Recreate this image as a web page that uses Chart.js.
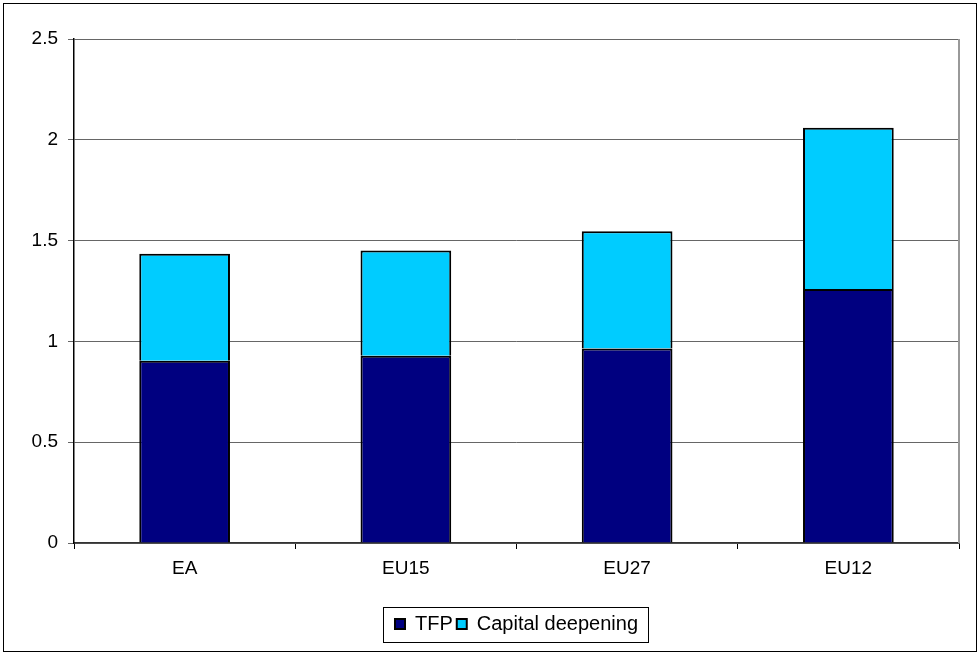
<!DOCTYPE html>
<html>
<head>
<meta charset="utf-8">
<script src="https://cdn.jsdelivr.net/npm/chart.js@4.4.0/dist/chart.umd.min.js"></script>
<style>
    html, body { margin: 0; padding: 0; background: #fff; }
    #wrap { width: 978px; height: 653px; }
</style>
</head>
<body>
<div id="wrap"><canvas id="growth-chart" width="978" height="653"></canvas></div>
<script>
const categories = ['EA', 'EU15', 'EU27', 'EU12'];
const tfpValues = [0.904, 0.929, 0.965, 1.26];
const capitalValues = [0.531, 0.522, 0.581, 0.80];
const yTicks = [0, 0.5, 1, 1.5, 2, 2.5];

const FONT = 'Liberation Sans, Arial, sans-serif';

// frame round the whole picture, right edge of the plot, box round the legend
const framePlugin = {
    id: 'frames',
    beforeDatasetsDraw(chart) {
        const ctx = chart.ctx;
        const a = chart.chartArea;
        ctx.save();
        ctx.strokeStyle = '#999999';
        ctx.lineWidth = 2;
        ctx.beginPath();
        ctx.moveTo(a.right, a.top);
        ctx.lineTo(a.right, a.bottom);
        ctx.stroke();
        ctx.restore();
    },
    afterDraw(chart) {
        const ctx = chart.ctx;
        ctx.save();
        ctx.strokeStyle = '#000';
        ctx.lineWidth = 1;
        ctx.strokeRect(3.5, 3.5, 973, 648);

        const boxes = chart.legend.legendHitBoxes;
        if (boxes && boxes.length) {
            let l = Infinity, r = -Infinity, t = Infinity, b = -Infinity;
            boxes.forEach(function (h) {
                l = Math.min(l, h.left);
                r = Math.max(r, h.left + h.width);
                t = Math.min(t, h.top);
                b = Math.max(b, h.top + h.height);
            });
            const mid = (t + b) / 2;
            ctx.strokeStyle = '#000';
            ctx.strokeRect(Math.round(l - 12) + 0.5, Math.round(mid - 17) + 0.5, Math.round(r - l + 22), 35);
        }
        ctx.restore();
    }
};

document.addEventListener('DOMContentLoaded', function () {
    const el = document.getElementById('growth-chart');
    new Chart(el, {
        type: 'bar',
        data: {
            labels: categories,
            datasets: [
                {
                    label: 'TFP',
                    data: tfpValues,
                    backgroundColor: '#000080',
                    borderColor: '#000000',
                    borderWidth: 2,
                    barPercentage: 0.41,
                    categoryPercentage: 1
                },
                {
                    label: 'Capital deepening',
                    data: capitalValues,
                    backgroundColor: '#00CCFF',
                    borderColor: '#000000',
                    borderWidth: 2,
                    barPercentage: 0.41,
                    categoryPercentage: 1
                }
            ]
        },
        options: {
            responsive: false,
            animation: false,
            devicePixelRatio: 1,
            layout: {
                padding: { left: 0, right: 19, top: 39, bottom: 9 }
            },
            plugins: {
                tooltip: { enabled: false },
                legend: {
                    position: 'bottom',
                    fullSize: false,
                    labels: {
                        color: '#000',
                        font: { family: FONT, size: 20 },
                        boxWidth: 10,
                        boxHeight: 10,
                        padding: 4
                    }
                }
            },
            scales: {
                x: {
                    stacked: true,
                    afterFit: function (scale) { scale.height = 67; },
                    grid: {
                        offset: true,
                        drawOnChartArea: false,
                        drawTicks: true,
                        tickLength: 6,
                        color: '#000'
                    },
                    border: { color: '#333', width: 1.5 },
                    ticks: {
                        color: '#000',
                        font: { family: FONT, size: 19 },
                        padding: 8
                    }
                },
                y: {
                    stacked: true,
                    min: 0,
                    max: 2.5,
                    afterFit: function (scale) { scale.width = 74; },
                    afterBuildTicks: function (scale) {
                        scale.ticks = yTicks.map(function (v) { return { value: v }; });
                    },
                    grid: {
                        color: '#666',
                        lineWidth: 1,
                        tickLength: 6,
                        drawTicks: true
                    },
                    border: { color: '#000', width: 1.5 },
                    ticks: {
                        color: '#000',
                        font: { family: FONT, size: 19 },
                        padding: 10,
                        callback: function (v) { return String(v); }
                    }
                }
            }
        },
        plugins: [framePlugin]
    });
});
</script>
</body>
</html>
